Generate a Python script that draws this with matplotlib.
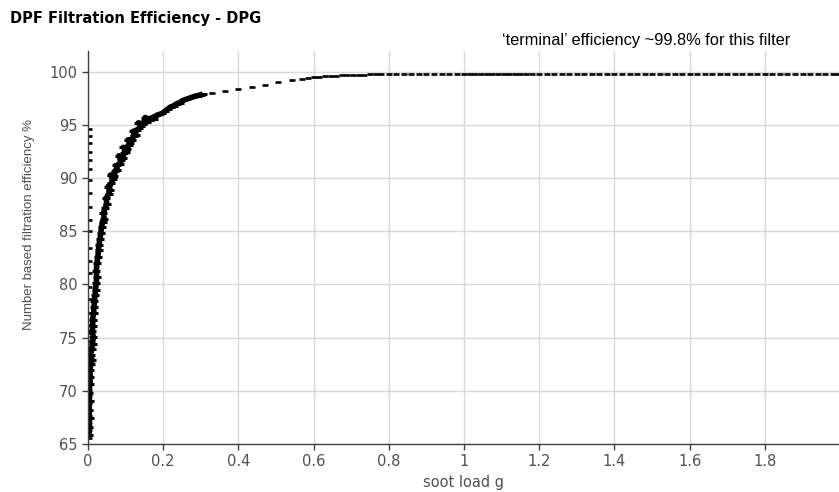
import matplotlib
matplotlib.use('Agg')
import matplotlib.pyplot as plt

# points on the y axis (soot load ~0)
col_x = [0.003] * 34
col_y = [65.6, 66.3, 67.0, 67.6, 68.2, 68.9, 69.5, 70.1, 70.8, 71.4, 72.0, 72.7, 73.3,
         74.0, 74.7, 75.4, 76.2, 77.3, 78.6, 79.8, 81.1, 82.2, 83.4, 85.0, 86.1, 87.3,
         88.6, 89.8, 90.9, 91.7, 92.5, 93.3, 94.0, 94.6]

# main dense curve, soot load 0 - 0.3 g
curve_x = [0.003, 0.003, 0.004, 0.003, 0.004, 0.003, 0.005, 0.006, 0.005, 0.008, 0.011,
           0.007, 0.010, 0.012, 0.014, 0.011, 0.013, 0.012, 0.015, 0.016, 0.017, 0.019,
           0.020, 0.022, 0.023, 0.022, 0.024, 0.026, 0.028, 0.029, 0.032, 0.034, 0.036,
           0.039, 0.043, 0.041, 0.046, 0.050, 0.048, 0.055, 0.058, 0.053, 0.062, 0.066,
           0.060, 0.070, 0.072, 0.078, 0.075, 0.085, 0.088, 0.082, 0.093, 0.096, 0.100,
           0.094, 0.104, 0.108, 0.113, 0.106, 0.118, 0.121, 0.127, 0.120, 0.131, 0.136,
           0.140, 0.134, 0.145, 0.150, 0.158, 0.152, 0.165, 0.170, 0.176, 0.182, 0.190,
           0.198, 0.205, 0.212, 0.220, 0.228, 0.236, 0.244, 0.252, 0.260, 0.268, 0.276,
           0.284, 0.292, 0.300, 0.305]
curve_y = [65.8, 66.6, 67.4, 68.2, 69.0, 69.8, 70.6, 71.3, 72.0, 72.5, 72.9,
           73.4, 73.9, 74.4, 75.1, 75.6, 76.1, 76.7, 77.3, 77.9, 78.4, 79.0,
           79.5, 80.1, 80.7, 81.3, 82.0, 82.6, 83.2, 83.7, 84.3, 84.8, 85.4,
           85.9, 86.2, 86.7, 87.2, 87.6, 88.1, 88.5, 88.9, 89.2, 89.5, 89.9,
           90.3, 90.2, 90.7, 90.8, 91.2, 91.3, 91.7, 92.1, 91.9, 92.4, 92.5,
           92.9, 92.7, 93.1, 93.3, 93.6, 93.6, 94.0, 94.1, 94.4, 94.5, 94.7,
           94.9, 95.2, 95.1, 95.3, 95.3, 95.7, 95.5, 95.7, 95.6, 95.9, 96.0,
           96.1, 96.3, 96.5, 96.7, 96.8, 97.0, 97.1, 97.3, 97.4, 97.5, 97.6,
           97.7, 97.75, 97.85, 97.9]

# sparse points and plateau, 0.33 - 2 g
tail_x = [0.329, 0.364, 0.400, 0.435, 0.471, 0.506, 0.542, 0.568, 0.585, 0.600, 0.615,
          0.630, 0.645, 0.660, 0.675, 0.690, 0.705, 0.720, 0.735, 0.750, 0.765, 0.780,
          0.800, 0.820, 0.840, 0.860, 0.880, 0.900, 0.920, 0.940, 0.960, 0.980, 1.000,
          1.015, 1.030, 1.045, 1.060, 1.075, 1.090, 1.105, 1.120, 1.135, 1.150, 1.165,
          1.180, 1.200, 1.220, 1.240, 1.260, 1.280, 1.300, 1.320, 1.340, 1.360, 1.380,
          1.400, 1.420, 1.440, 1.460, 1.480, 1.500, 1.520, 1.540, 1.560, 1.580, 1.600,
          1.620, 1.640, 1.660, 1.680, 1.700, 1.720, 1.740, 1.760, 1.780, 1.800, 1.820,
          1.840, 1.860, 1.880, 1.900, 1.920, 1.940, 1.960, 1.980, 1.995]
tail_y = [98.0, 98.15, 98.37, 98.56, 98.78, 99.0, 99.2, 99.34, 99.42, 99.5, 99.53,
          99.57, 99.6, 99.63, 99.66, 99.68, 99.7, 99.72, 99.74, 99.76, 99.77, 99.79,
          99.81, 99.8, 99.82, 99.81, 99.8, 99.82, 99.81, 99.8, 99.82, 99.8, 99.82,
          99.83, 99.82, 99.83, 99.82, 99.83, 99.82, 99.83, 99.83, 99.82, 99.83, 99.82,
          99.82, 99.81, 99.82, 99.81, 99.81, 99.82, 99.81, 99.81, 99.82, 99.81, 99.81,
          99.8, 99.81, 99.8, 99.8, 99.81, 99.8, 99.8, 99.81, 99.8, 99.8, 99.81,
          99.8, 99.8, 99.8, 99.81, 99.8, 99.8, 99.8, 99.81, 99.8, 99.8, 99.8,
          99.8, 99.81, 99.8, 99.8, 99.8, 99.81, 99.8, 99.8, 99.8]

x_ticks = [0, 0.2, 0.4, 0.6, 0.8, 1, 1.2, 1.4, 1.6, 1.8]
x_labels = ['0', '0.2', '0.4', '0.6', '0.8', '1', '1.2', '1.4', '1.6', '1.8']
y_ticks = [65, 70, 75, 80, 85, 90, 95, 100]

fig = plt.figure(figsize=(8.39, 4.92), dpi=100)
ax = fig.add_axes([88 / 839, 48 / 492, 751 / 839, 393.5 / 492])

txt = '#505050'
mk = dict(marker='_', color='black', markersize=4.6, markeredgewidth=1.9, linestyle='none')

ax.plot(col_x, col_y, **mk)
# dense cloud: thick line through the points plus the markers
ax.plot(curve_x, curve_y, color='black', linewidth=4.0, solid_capstyle='butt')
ax.plot(curve_x, curve_y, marker='_', color='black', markersize=6, markeredgewidth=2.2,
        linestyle='none')
ax.plot(tail_x, tail_y, **mk)

ax.set_xlim(0, 1.997)
ax.set_ylim(65, 102)
ax.set_xticks(x_ticks)
ax.set_xticklabels(x_labels)
ax.set_yticks(y_ticks)
ax.grid(True, color='#d9d9d9', linewidth=1.0)
ax.set_axisbelow(True)

for s in ['top', 'right']:
    ax.spines[s].set_visible(False)
for s in ['left', 'bottom']:
    ax.spines[s].set_color('#404040')
    ax.spines[s].set_linewidth(1.0)
ax.tick_params(direction='out', length=4, width=1, color='#404040',
               labelcolor=txt, labelsize=10.5)

ax.set_xlabel('soot load g', fontsize=10.5, color=txt)
ax.xaxis.set_label_coords(0.5, -0.079)
ax.set_ylabel('Number based filtration efficiency %', fontsize=9.5, color=txt,
              family='Liberation Sans')
ax.yaxis.set_label_coords(-0.071, 0.557)

fig.text(10 / 839, 1 - 18 / 492, 'DPF Filtration Efficiency - DPG', fontsize=10.5,
         fontweight='bold', va='center', ha='left', color='black')
fig.text(502 / 839, 1 - 40 / 492, '\u2018terminal\u2019 efficiency ~99.8% for this filter',
         fontsize=11.8, family='Liberation Sans', va='center', ha='left', color='black')

fig.savefig('out.png', dpi=100)
